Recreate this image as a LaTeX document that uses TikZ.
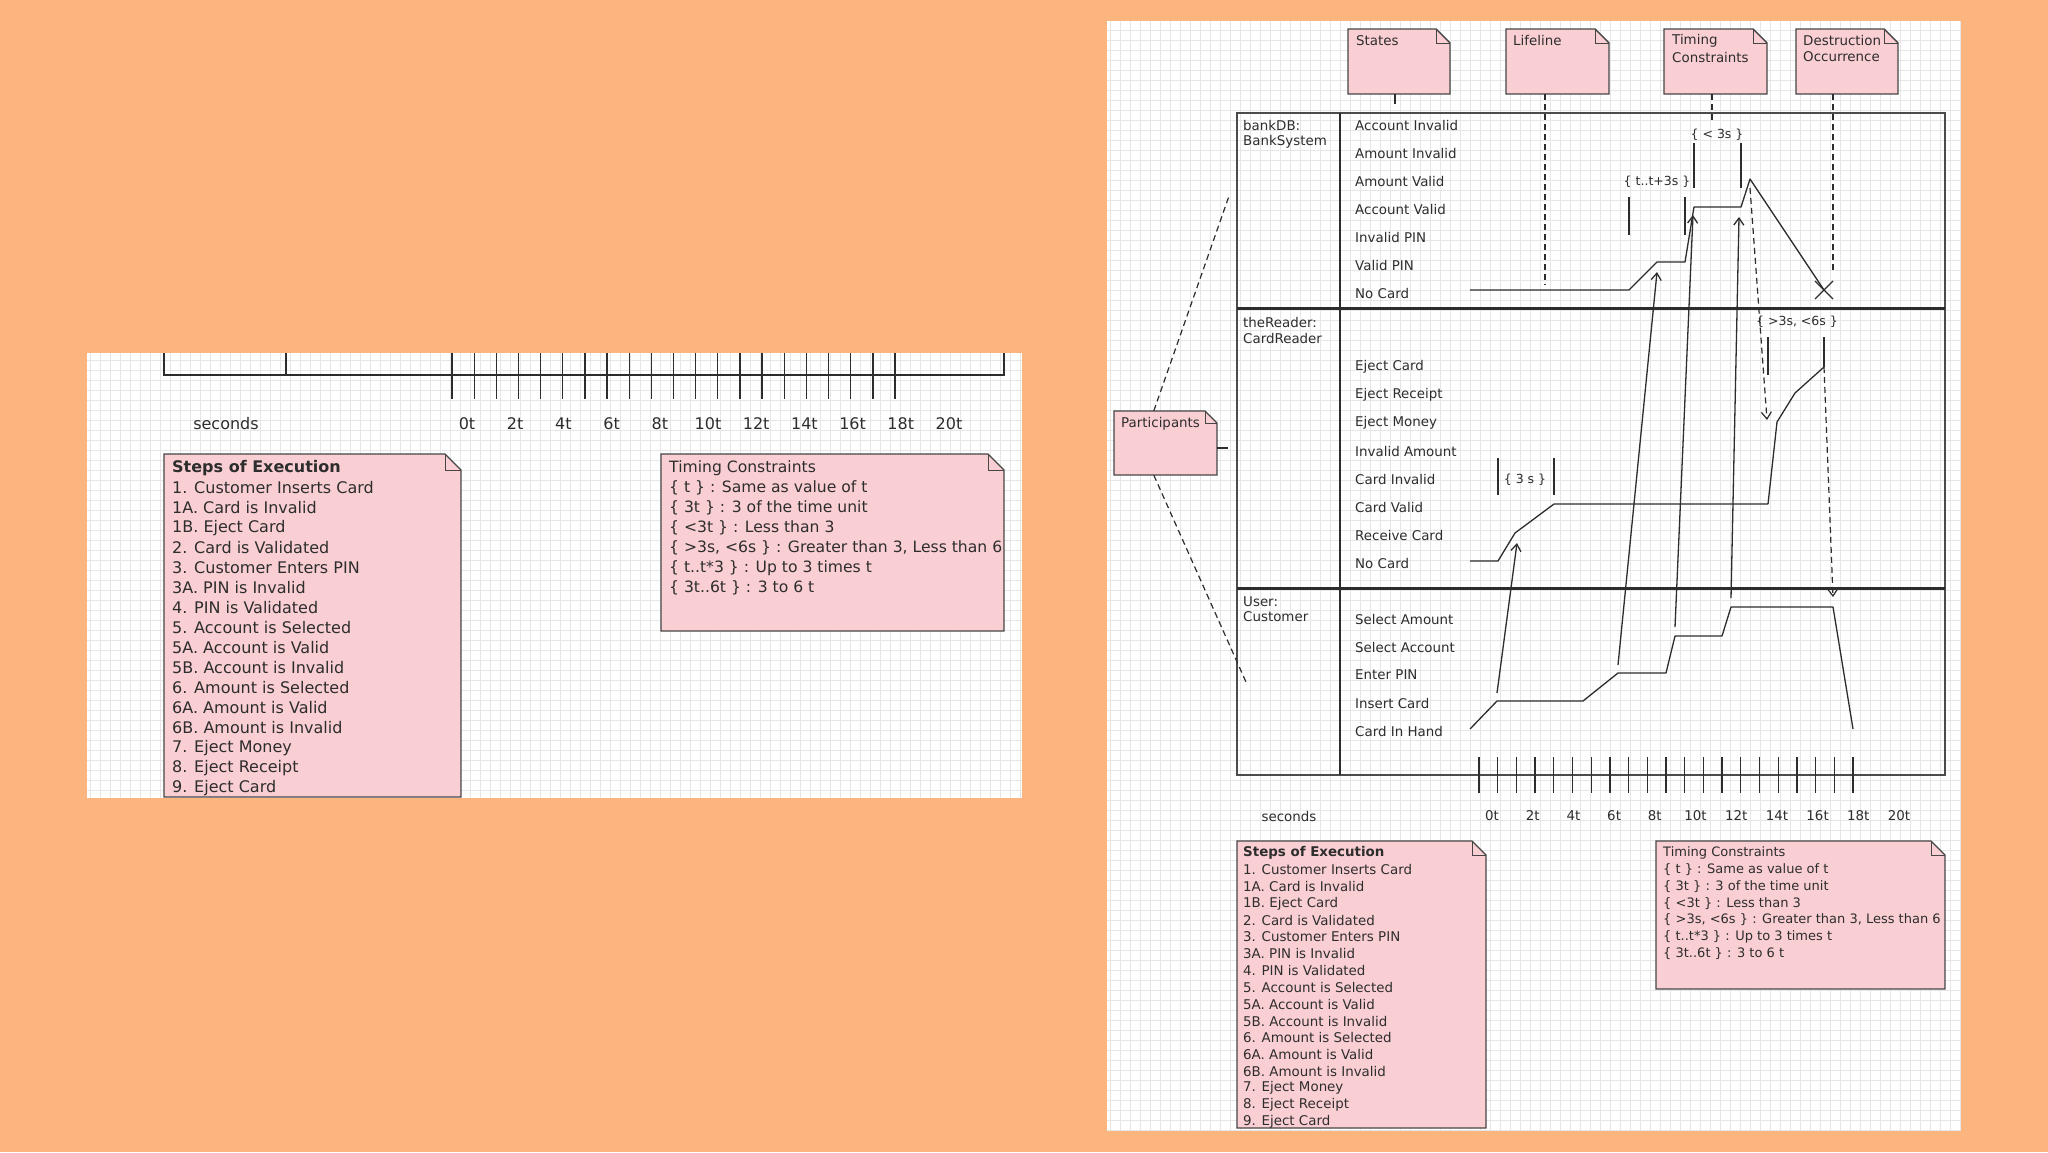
\documentclass[tikz,border=0pt]{standalone}
\usepackage{fontspec}
\setmainfont{DejaVu Sans}
\usetikzlibrary{arrows.meta}
\definecolor{bgor}{RGB}{252,181,126}
\definecolor{notepink}{RGB}{250,207,211}
\definecolor{notebd}{RGB}{70,70,70}
\definecolor{ink}{RGB}{45,45,45}
\definecolor{gridc}{RGB}{230,230,230}
\newcommand\mynote[6]{%
  \path[notebox] (#2,#3) -- ({#4-#6},#3) -- (#4,{#3+#6}) -- (#4,#5) -- (#2,#5) -- cycle;
  \draw[notebd, line width=1pt] ({#4-#6},#3) -- ({#4-#6},{#3+#6}) -- (#4,{#3+#6});
  \node[inner sep=0pt, minimum width={#4-#2}, minimum height={#5-#3}] (#1) at ({(#2+#4)/2},{(#3+#5)/2}) {};
}
\begin{document}
\begin{tikzpicture}[x=1pt,y=-1pt,
  ln/.style={draw=ink, line width=1.3pt},
  dsh/.style={draw=ink, line width=1.2pt, dash pattern=on 6pt off 4pt},
  arr/.style={-{Straight Barb[length=7pt,width=10pt]}},
  notebox/.style={fill=notepink, draw=notebd, line width=1.4pt},
  lblR/.style={font=\fontsize{13.4}{16}\selectfont, text=ink, inner sep=0pt, anchor=west},
  lblL/.style={font=\fontsize{16}{20}\selectfont, text=ink, inner sep=0pt, anchor=west},
  ctr/.style={font=\fontsize{12.5}{15}\selectfont, text=ink, inner sep=0pt}]
\useasboundingbox (0,0) rectangle (2048,1152);
\fill[bgor] (0,0) rectangle (2048,1152);

%% ================= LEFT PANEL =================
\fill[white] (87,353) rectangle (1022,798);
\foreach \gx in {90,100,...,1020} \draw[gridc, line width=0.8pt] (\gx,353) -- (\gx,798);
\foreach \gy in {360,370,...,790} \draw[gridc, line width=0.8pt] (87,\gy) -- (1022,\gy);

\draw[ln] (164,353) -- (164,375) -- (1004,375) -- (1004,353);
\draw[ln] (286,353) -- (286,375);
\foreach \k in {0,...,20} \draw[ln] ({452+22.15*\k},353) -- ({452+22.15*\k},399);
\node[lblL, anchor=center] (lsec) at (226,424) {seconds};
\foreach \k in {0,...,10} {
  \pgfmathtruncatemacro\v{2*\k}
  \node[lblL, anchor=center] (lt\k) at ({467+48.2*\k},424) {\v t};
}

\mynote{lsteps}{164}{454}{461}{797}{16}
\node[lblL, font=\fontsize{16}{20}\selectfont\bfseries] (lst0) at (172,468) {Steps of Execution};
\foreach \t [count=\i] in {1. Customer Inserts Card, 1A. Card is Invalid, 1B. Eject Card,
  2. Card is Validated, 3. Customer Enters PIN, 3A. PIN is Invalid, 4. PIN is Validated,
  5. Account is Selected, 5A. Account is Valid, 5B. Account is Invalid, 6. Amount is Selected,
  6A. Amount is Valid, 6B. Amount is Invalid, 7. Eject Money, 8. Eject Receipt, 9. Eject Card}
  \node[lblL] (lst\i) at (172,{468+20*\i}) {\t};

\mynote{ltime}{661}{454}{1004}{631}{16}
\node[lblL, font=\fontsize{15.6}{20}\selectfont] (ltc0) at (669,468) {Timing Constraints};
\foreach \t [count=\i] in {{\{ t \} : Same as value of t}, {\{ 3t \} : 3 of the time unit},
  {\{ <3t \} : Less than 3}, {\{ >3s, <6s \} : Greater than 3, Less than 6},
  {\{ t..t*3 \} : Up to 3 times t}, {\{ 3t..6t \} : 3 to 6 t}}
  \node[lblL, font=\fontsize{15.6}{20}\selectfont] (ltc\i) at (669,{468+20*\i}) {\t};

%% ================= RIGHT PANEL =================
\fill[white] (1107,21) rectangle (1960,1131);
\foreach \gx in {1110,1120,...,1960} \draw[gridc, line width=0.8pt] (\gx,21) -- (\gx,1131);
\foreach \gy in {30,40,...,1130} \draw[gridc, line width=0.8pt] (1107,\gy) -- (1960,\gy);

% frame
\draw[draw=ink!85, line width=2pt] (1237,113) rectangle (1945,775);
\draw[ln] (1340,113) -- (1340,775);
\draw[draw=ink, line width=3pt] (1237,308) -- (1945,308);
\draw[draw=ink, line width=3pt] (1237,588) -- (1945,588);

% top notes
\mynote{nstates}{1348}{29}{1450}{94}{14}
\mynote{nlife}{1506}{29}{1609}{94}{14}
\mynote{ntime}{1664}{29}{1767}{94}{14}
\mynote{ndest}{1796}{29}{1898}{94}{14}
\node[lblR] (tstates) at (1356,41) {States};
\node[lblR] (tlife) at (1513,41) {Lifeline};
\node[lblR] (ttime1) at (1672,41) {Timing};
\node[lblR] (ttime2) at (1672,57) {Constraints};
\node[lblR] (tdest1) at (1803,41) {Destruction};
\node[lblR] (tdest2) at (1803,57) {Occurrence};

\coordinate (cst) at (1395,104);
\coordinate (clf) at (1545,285);
\coordinate (ctm) at (1712,120);
\coordinate (cds) at (1833,273);
\draw[ln] ([xshift=-4pt]nstates.south) -- (cst);
\draw[dsh] ([xshift=-12.5pt]nlife.south) -- (clf);
\draw[dsh] ([xshift=-3.5pt]ntime.south) -- (ctm);
\draw[dsh] ([xshift=-14pt]ndest.south) -- (cds);

% participants note
\mynote{npart}{1114}{411}{1217}{475}{12}
\node[lblR] (tpart) at (1121,424) {Participants};
\coordinate (pp0) at (1228,448);
\coordinate (pp1) at (1229,196);
\coordinate (pp2) at (1246,682);
\draw[ln] ([yshift=-5pt]npart.east) -- (pp0);
\draw[dsh] ([xshift=40pt]npart.north west) -- (pp1);
\draw[dsh] ([xshift=40pt]npart.south west) -- (pp2);

% lifeline names
\node[lblR] (lb1) at (1243,125) {bankDB:};
\node[lblR] (lb2) at (1243,142) {BankSystem};
\node[lblR] (lr1) at (1243,322) {theReader:};
\node[lblR] (lr2) at (1243,338) {CardReader};
\node[lblR] (lu1) at (1243,602) {User:};
\node[lblR] (lu2) at (1243,617) {Customer};

% state labels
\foreach \t [count=\i] in {Account Invalid, Amount Invalid, Amount Valid, Account Valid, Invalid PIN, Valid PIN, No Card}
  \node[lblR] (sb\i) at (1355,{125+28*(\i-1)}) {\t};
\foreach \t [count=\i] in {Eject Card, Eject Receipt, Eject Money, Invalid Amount, Card Invalid, Card Valid, Receive Card, No Card}
  \node[lblR] (sr\i) at (1355,{367+28*(\i-1)}) {\t};
\foreach \t [count=\i] in {Select Amount, Select Account, Enter PIN, Insert Card, Card In Hand}
  \node[lblR] (su\i) at (1355,{619+28*(\i-1)}) {\t};

% state timelines
\draw[ln, line join=round] (1470,290) -- (1629,290) -- (1657,262) -- (1685,262) -- (1694,207) -- (1741,207) -- (1750,179) -- (1824,290);
\draw[ln] (1815,281) -- (1833,299) (1815,299) -- (1833,281);
\draw[ln, line join=round] (1470,561) -- (1498,561) -- (1515,533) -- (1554,504) -- (1768,504) -- (1777,422) -- (1795,393) -- (1824,367);
\draw[ln, line join=round] (1470,729) -- (1497,701) -- (1583,701) -- (1618,673) -- (1666,673) -- (1675,636) -- (1722,636) -- (1731,607) -- (1833,607) -- (1853,729);

% timing constraints
\draw[ln] (1629,197) -- (1629,235);
\draw[ln] (1685,197) -- (1685,235);
\node[ctr] (ct1) at (1657,182) {\{ t..t+3s \}};
\draw[ln] (1694,143) -- (1694,188);
\draw[ln] (1741,143) -- (1741,188);
\node[ctr] (ct2) at (1717,135) {\{ < 3s \}};
\draw[ln] (1498,458) -- (1498,495);
\draw[ln] (1554,458) -- (1554,495);
\node[ctr] (ct3) at (1525,480) {\{ 3 s \}};
\draw[ln] (1768,337) -- (1768,375);
\draw[ln] (1824,337) -- (1824,367);
\node[ctr] (ct4) at (1797,322) {\{ >3s, <6s \}};

% messages
\coordinate (m0a) at (1497,693); \coordinate (m0b) at (1517,543);
\coordinate (m1a) at (1618,665); \coordinate (m1b) at (1657,272);
\coordinate (m2a) at (1675,627); \coordinate (m2b) at (1693,215);
\coordinate (m3a) at (1731,598); \coordinate (m3b) at (1739,217);
\coordinate (d1a) at (1750,188); \coordinate (d1b) at (1767,420);
\coordinate (d2a) at (1824,367); \coordinate (d2b) at (1833,597);
\draw[ln, arr] (m0a) -- (m0b);
\draw[ln, arr] (m1a) -- (m1b);
\draw[ln, arr] (m2a) -- (m2b);
\draw[ln, arr] (m3a) -- (m3b);
\draw[dsh, arr] (d1a) -- (d1b);
\draw[dsh, arr] (d2a) -- (d2b);

% time axis
\foreach \k in {0,...,20} \draw[ln] ({1479+18.7*\k},757) -- ({1479+18.7*\k},793);
\node[lblR, anchor=center] (rsec) at (1289,816) {seconds};
\foreach \k in {0,...,10} {
  \pgfmathtruncatemacro\v{2*\k}
  \node[lblR, anchor=center] (rt\k) at ({1492+40.7*\k},816) {\v t};
}

% bottom notes
\mynote{rsteps}{1237}{841}{1486}{1128}{14}
\node[lblR, font=\fontsize{13.4}{16}\selectfont\bfseries] (rst0) at (1243,853) {Steps of Execution};
\foreach \t [count=\i] in {1. Customer Inserts Card, 1A. Card is Invalid, 1B. Eject Card,
  2. Card is Validated, 3. Customer Enters PIN, 3A. PIN is Invalid, 4. PIN is Validated,
  5. Account is Selected, 5A. Account is Valid, 5B. Account is Invalid, 6. Amount is Selected,
  6A. Amount is Valid, 6B. Amount is Invalid, 7. Eject Money, 8. Eject Receipt, 9. Eject Card}
  \node[lblR] (rst\i) at (1243,{853+16.8*\i}) {\t};

\mynote{rtime}{1656}{841}{1945}{989}{14}
\node[lblR, font=\fontsize{13}{16}\selectfont] (rtc0) at (1663,853) {Timing Constraints};
\foreach \t [count=\i] in {{\{ t \} : Same as value of t}, {\{ 3t \} : 3 of the time unit},
  {\{ <3t \} : Less than 3}, {\{ >3s, <6s \} : Greater than 3, Less than 6},
  {\{ t..t*3 \} : Up to 3 times t}, {\{ 3t..6t \} : 3 to 6 t}}
  \node[lblR, font=\fontsize{13}{16}\selectfont] (rtc\i) at (1663,{853+16.75*\i}) {\t};
\end{tikzpicture}
\end{document}
